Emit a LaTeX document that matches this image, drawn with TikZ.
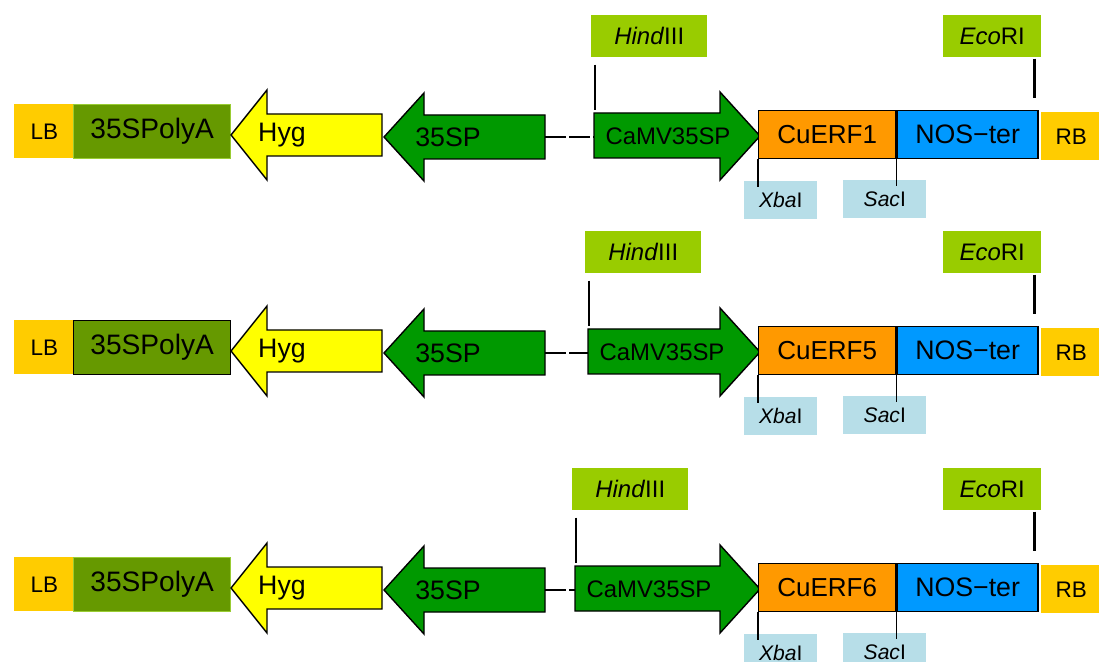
\documentclass[tikz,border=0pt]{standalone}
\usepackage{fontspec}
\setmainfont{Liberation Sans}
\usetikzlibrary{calc}

\definecolor{bordergold}{HTML}{FFCC00}
\definecolor{polyolive}{HTML}{669900}
\definecolor{polyedge}{HTML}{99CC33}
\definecolor{hygyellow}{HTML}{FFFF00}
\definecolor{promgreen}{HTML}{009900}
\definecolor{geneorange}{HTML}{FF9900}
\definecolor{nosblue}{HTML}{0099FF}
\definecolor{sitelime}{HTML}{99CC00}
\definecolor{sitepale}{HTML}{B7DEE8}

\newcommand{\fsz}[1]{\fontsize{#1}{#1}\selectfont}

\begin{document}
\begin{tikzpicture}[x=0.025cm,y=-0.025cm,
  part/.style 2 args={rectangle,inner sep=0pt,anchor=north west,
    minimum width=#1*0.025cm,minimum height=#2*0.025cm},
  border/.style={fill=bordergold,font=\fsz{16}},
  genearrow/.style={draw,line width=1pt,line join=miter},
  cut/.style={line width=2pt},
  thincut/.style={line width=0.9pt},
  linker/.style={line width=1pt,dash pattern=on 0.525cm off 0.075cm}]
\useasboundingbox (0,0) rectangle (1099,662);
\clip (0,0) rectangle (1099,662);
\fill[white] (0,0) rectangle (1099,662);

% one T-DNA cassette per row
\foreach \yc/\gene/\pa/\cx in {137/CuERF1/polyedge/594,353/CuERF5/black/588,590/CuERF6/polyedge/575}{
  % left border and terminator
  \node[part={60}{54},border] (lb) at (14,\yc-33) {LB};
  \node[part={157}{54},fill=polyolive,draw=\pa,line width=1pt,font=\fsz{20}] (polya) at (73,\yc-33) {35SPolyA};
  % hygromycin marker and its promoter
  \draw[genearrow,fill=hygyellow] (231,\yc-2) -- (267,\yc-47) -- (267,\yc-23) -- (382,\yc-23)
    -- (382,\yc+19) -- (267,\yc+19) -- (267,\yc+43) -- cycle;
  \node[font=\fsz{19}] (hyg) at (282,\yc-2) {Hyg};
  \draw[genearrow,fill=promgreen] (384,\yc) -- (424,\yc-44) -- (424,\yc-22) -- (545,\yc-22)
    -- (545,\yc+22) -- (424,\yc+22) -- (424,\yc+44) -- cycle;
  \coordinate (spend) at (545,\yc);
  \node[font=\fsz{19}] (sp) at (448,\yc) {35SP};
  % expression cassette
  \draw[genearrow,fill=promgreen] (\cx,\yc-24) -- (720,\yc-24) -- (720,\yc-45) -- (760,\yc-1)
    -- (720,\yc+43) -- (720,\yc+21) -- (\cx,\yc+21) -- cycle;
  \coordinate (camvstart) at (\cx,\yc);
  \coordinate (camvtop) at (\cx,\yc-24);
  \node[font=\fsz{17}] (camv) at (\cx+74,\yc-1) {CaMV35SP};
  \draw[linker] (spend) -- (camvstart);
  \node[part={137}{48},fill=geneorange,draw,line width=1pt,font=\fsz{18.5}] (gene) at (758,\yc-27) {\gene};
  \node[part={141}{48},fill=nosblue,draw,line width=1pt,font=\fsz{19}] (nos) at (gene.north east) {NOS−ter};
  \node[part={60}{48},border] (rb) at (1041,\yc-25) {RB};
  % restriction sites
  \node[part={116}{42},fill=sitelime,font=\fsz{17}] (hind) at (\cx-3,\yc-122) {\textit{Hind}III};
  \node[part={98}{42},fill=sitelime,font=\fsz{17}] (eco) at (943,\yc-122) {\textit{Eco}RI};
  \node[part={73}{38},fill=sitepale,font=\fsz{15}] (xba) at (744,\yc+44) {\textit{Xba}I};
  \node[part={83}{38},fill=sitepale,font=\fsz{15}] (sac) at (843,\yc+43) {\textit{Sac}I};
  \draw[cut] ($(hind.south west)+(4,7)$) -- ($(hind.south west |- camvtop)+(4,-3)$);
  \draw[cut] ($(eco.south east)+(-7,1)$) -- ($(eco.south east |- nos.north)+(-7,-12)$);
  \draw[thincut] (gene.south west) -- ($(gene.south west |- xba.north)+(0,6)$);
  \draw[thincut] (gene.south east) -- ($(gene.south east |- sac.north)+(0,6)$);
}
\end{tikzpicture}
\end{document}
